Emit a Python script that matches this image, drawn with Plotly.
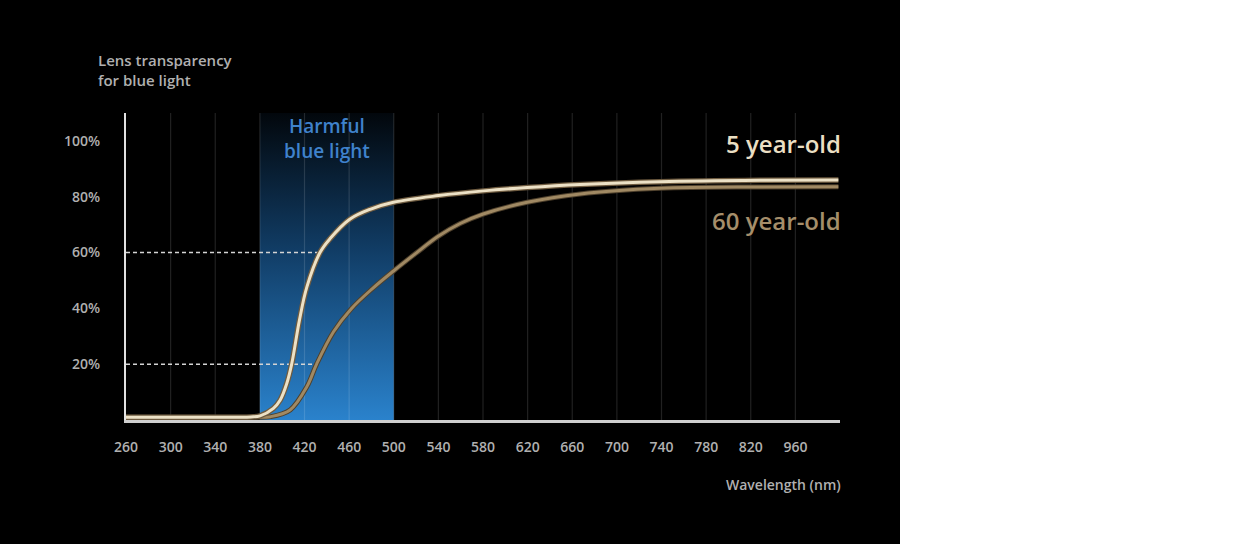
import plotly.graph_objects as go

# ---------------- data ----------------
tick_labels = [260, 300, 340, 380, 420, 460, 500, 540, 580, 620, 660, 700, 740, 780, 820, 960]
y_ticks = [20, 40, 60, 80, 100]
y_tick_text = ["20%", "40%", "60%", "80%", "100%"]

# curve positions are given in axis-tick units (0 = "260", 15 = "960")
young_x = [0.0, 1.0, 2.0, 2.5, 2.8, 3.004, 3.303, 3.453, 3.603, 3.715, 3.886, 4.052, 4.350,
           4.574, 5.022, 5.471, 5.993, 7.002, 8.011, 8.991, 10.179, 11.973, 14.215, 15.964]
young_y = [1.0, 1.0, 1.0, 1.0, 1.1, 1.5, 4.2, 7.1, 13.1, 20.2, 35.7, 47.6, 60.1,
           65.0, 72.0, 75.5, 78.0, 80.4, 82.1, 83.3, 84.4, 85.4, 85.9, 86.0]

old_x = [0.0, 1.0, 2.0, 2.8, 3.242, 3.677, 4.052, 4.276, 4.650, 5.045, 5.516, 5.987, 6.502,
         6.996, 7.489, 8.004, 8.991, 10.179, 11.973, 14.215, 15.964]
old_y = [1.0, 1.0, 1.0, 1.0, 1.2, 3.6, 11.9, 20.2, 31.6, 39.8, 47.0, 53.3, 59.8,
         65.8, 70.4, 73.8, 78.0, 81.0, 83.0, 83.5, 83.6]

harmful_band = [380, 500]          # wavelength labels bounding the blue band
guide_levels = [20, 60]            # dashed guide lines
guide_ends = [4.276, 4.350]        # where each guide meets a curve (tick units)

# ---------------- layout helpers ----------------
L, T, W, H = 126, 113, 714, 307
FIG_W, FIG_H = 1240, 544


def px(x):
    return (x - L) / W


def py(y):
    return (T + H - y) / H


tick_pos = list(range(len(tick_labels)))
band_x0 = tick_labels.index(harmful_band[0])
band_x1 = tick_labels.index(harmful_band[1])
Y_MAX = 110
SMOOTH = 1.0

fig = go.Figure()

# blue harmful band with vertical gradient
fig.add_trace(go.Scatter(
    x=[band_x0, band_x1, band_x1, band_x0, band_x0],
    y=[0, 0, Y_MAX, Y_MAX, 0],
    mode="lines", line=dict(width=0), fill="toself",
    fillgradient=dict(type="vertical",
                      colorscale=[[0, "#2a82cc"], [0.55, "#113d66"], [1, "#02070c"]]),
    hoverinfo="skip", showlegend=False,
))

# vertical grid lines (above the band)
gx, gy = [], []
for p in tick_pos[1:]:
    gx += [p, p, None]
    gy += [0, Y_MAX, None]
fig.add_trace(go.Scatter(x=gx, y=gy, mode="lines",
                         line=dict(color="rgba(255,255,255,0.13)", width=1.2),
                         hoverinfo="skip", showlegend=False))

# dashed guides
for lvl, end in zip(guide_levels, guide_ends):
    fig.add_trace(go.Scatter(x=[0, end], y=[lvl, lvl], mode="lines",
                             line=dict(color="#d4d4d4", width=1.5, dash="4px,3px"),
                             hoverinfo="skip", showlegend=False))

# 60 year-old curve
fig.add_trace(go.Scatter(x=old_x, y=old_y, mode="lines",
                         line=dict(color="#4e402c", width=5, shape="spline", smoothing=SMOOTH),
                         hoverinfo="skip", showlegend=False))
fig.add_trace(go.Scatter(x=old_x, y=old_y, mode="lines",
                         line=dict(color="#a08963", width=3, shape="spline", smoothing=SMOOTH),
                         hoverinfo="skip", showlegend=False))

# 5 year-old curve
fig.add_trace(go.Scatter(x=young_x, y=young_y, mode="lines",
                         line=dict(color="#6e5b40", width=5.5, shape="spline", smoothing=SMOOTH),
                         hoverinfo="skip", showlegend=False))
fig.add_trace(go.Scatter(x=young_x, y=young_y, mode="lines",
                         line=dict(color="#ece1c6", width=3, shape="spline", smoothing=SMOOTH),
                         hoverinfo="skip", showlegend=False))

FONT = "Open Sans"
GREY = "#b0b0b0"

fig.update_layout(
    width=FIG_W, height=FIG_H,
    margin=dict(l=L, r=FIG_W - L - W, t=T, b=FIG_H - T - H),
    paper_bgcolor="white", plot_bgcolor="black",
    hovermode=False, showlegend=False,
    font=dict(family=FONT, color=GREY, size=14),
    xaxis=dict(range=[0, 16], tickvals=tick_pos, ticktext=[str(t) for t in tick_labels],
               showgrid=False, zeroline=False, showline=True, linecolor="#cfcfcf",
               linewidth=3, ticks="", ticklabelstandoff=12,
               tickfont=dict(size=14, color=GREY, family=FONT, weight=600), fixedrange=True),
    yaxis=dict(range=[0, Y_MAX], tickvals=y_ticks, ticktext=y_tick_text,
               showgrid=False, zeroline=False, showline=True, linecolor="#e2e2e2",
               linewidth=2, ticks="", ticklabelstandoff=21,
               tickfont=dict(size=14, color=GREY, family=FONT, weight=600), fixedrange=True),
    shapes=[dict(type="rect", xref="paper", yref="paper",
                 x0=px(0), x1=px(900), y0=py(FIG_H), y1=py(0),
                 fillcolor="black", line=dict(width=0), layer="below")],
    annotations=[
        dict(text="Lens transparency<br>for blue light", xref="paper", yref="paper",
             x=px(96), y=py(48), xanchor="left", yanchor="top", align="left",
             showarrow=False, font=dict(size=15, color=GREY, family=FONT, weight=600)),
        dict(text="Harmful<br>blue light", xref="x", yref="paper",
             x=(band_x0 + band_x1) / 2, y=py(111), xanchor="center", yanchor="top",
             align="center", showarrow=False,
             font=dict(size=19, color="#3f82cc", family=FONT, weight=600)),
        dict(text="5 year-old", xref="paper", yref="paper",
             x=px(843), y=py(143), xanchor="right", yanchor="middle",
             showarrow=False, font=dict(size=24, color="#ebdfc3", family=FONT, weight=600)),
        dict(text="60 year-old", xref="paper", yref="paper",
             x=px(843), y=py(220), xanchor="right", yanchor="middle",
             showarrow=False, font=dict(size=24, color="#a58e6a", family=FONT, weight=600)),
        dict(text="Wavelength (nm)", xref="paper", yref="paper",
             x=px(843), y=py(484), xanchor="right", yanchor="middle",
             showarrow=False, font=dict(size=14, color=GREY, family=FONT, weight=600)),
    ],
)

fig.write_html("out.html", config={"displayModeBar": False},
               post_script="document.body.style.margin='0';")
